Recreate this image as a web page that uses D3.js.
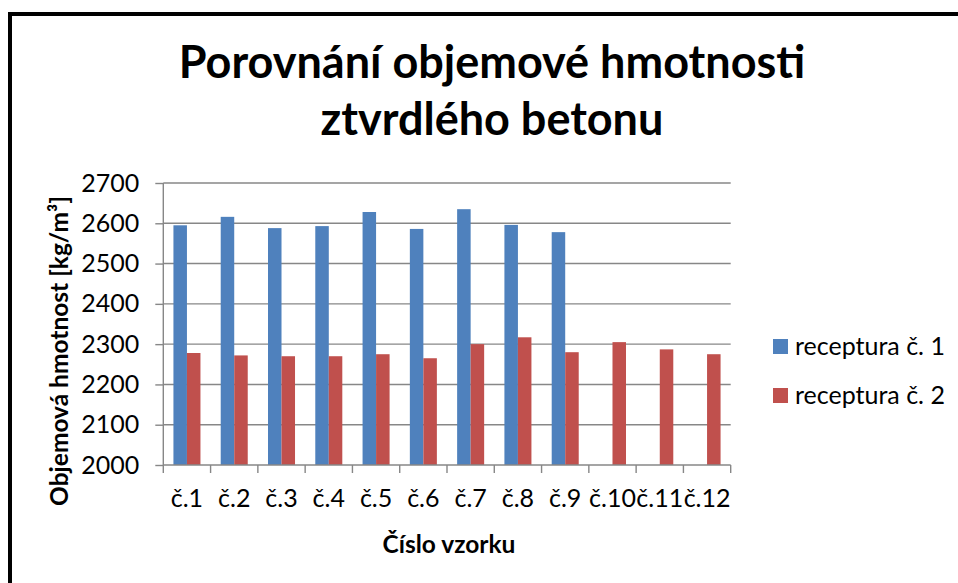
<!DOCTYPE html>
<html>
<head>
<meta charset="utf-8">
<script src="https://cdn.jsdelivr.net/npm/d3@7"></script>
<style>
  body { margin: 0; background: #fff; }
  svg { display: block; }
  text { font-family: Lato, "Open Sans", sans-serif; fill: #000; }
</style>
</head>
<body>
<script>
// chart data
var categories = ["č.1", "č.2", "č.3", "č.4", "č.5", "č.6", "č.7", "č.8", "č.9", "č.10", "č.11", "č.12"];
var receptura1 = [2595, 2616, 2588, 2593, 2628, 2586, 2635, 2596, 2578, null, null, null];
var receptura2 = [2278, 2272, 2270, 2270, 2275, 2265, 2300, 2317, 2280, 2305, 2287, 2275];
var seriesNames = ["receptura č. 1", "receptura č. 2"];
var yTicks = [2000, 2100, 2200, 2300, 2400, 2500, 2600, 2700];
var titleLines = ["Porovnání objemové hmotnosti", "ztvrdlého betonu"];
var xTitle = "Číslo vzorku";
var yTitle = "Objemová hmotnost [kg/m³]";

var w = 958,
    h = 583,
    colors = ["#4F81BD", "#C0504D"],
    gridColor = "#878787",
    labelSize = "25px",
    axisTitleSize = "24.5px";

var plot = {left: 163.3, right: 730.7, top: 183, bottom: 465};

var svg = d3.select("body")
            .append("svg")
            .attr("width", w)
            .attr("height", h);

// outer frame (only top and left edges are in view)
svg.append("rect")
   .attr("x", 10)
   .attr("y", 14)
   .attr("width", 1000)
   .attr("height", 1000)
   .attr("fill", "none")
   .attr("stroke", "#000")
   .attr("stroke-width", 4);

var x = d3.scaleBand()
          .domain(categories)
          .range([plot.left, plot.right]);

// two bars per group, gap width of 150% like excel
var x1 = d3.scaleBand()
           .domain([0, 1])
           .range([0, x.bandwidth()])
           .paddingInner(0)
           .paddingOuter(0.75);

var y = d3.scaleLinear()
          .domain([2000, 2700])
          .range([plot.bottom, plot.top]);

// gridlines
svg.append("g")
   .selectAll("line")
   .data(yTicks.slice(1))
   .enter()
   .append("line")
   .attr("x1", plot.left)
   .attr("x2", plot.right)
   .attr("y1", function (d) { return y(d); })
   .attr("y2", function (d) { return y(d); })
   .attr("stroke", gridColor)
   .attr("stroke-width", 1.4);

// bars
var series = [receptura1, receptura2];
series.forEach(function (vals, s) {
  svg.append("g")
     .selectAll("rect")
     .data(vals.map(function (v, i) { return {cat: categories[i], v: v}; })
               .filter(function (d) { return d.v !== null; }))
     .enter()
     .append("rect")
     .attr("x", function (d) { return x(d.cat) + x1(s); })
     .attr("y", function (d) { return y(d.v); })
     .attr("width", x1.bandwidth())
     .attr("height", function (d) { return y(2000) - y(d.v); })
     .attr("fill", colors[s]);
});

// y axis
var yAxis = svg.append("g")
   .attr("transform", "translate(" + plot.left + ",0)")
   .call(d3.axisLeft(y).tickValues(yTicks).tickSize(8).tickPadding(16).tickFormat(d3.format("d")));
yAxis.select(".domain").attr("stroke", gridColor).attr("stroke-width", 1.4).attr("d", "M0," + plot.top + "V" + plot.bottom);
yAxis.selectAll(".tick line").attr("stroke", gridColor).attr("stroke-width", 1.4);
yAxis.selectAll(".tick text")
     .attr("font-size", labelSize)
     .attr("fill", "#000")
     .style("font-family", "Lato, sans-serif");

// x axis
var xAxis = svg.append("g")
   .attr("transform", "translate(0," + plot.bottom + ")")
   .call(d3.axisBottom(x).tickSize(0).tickPadding(0));
xAxis.select(".domain").attr("stroke", gridColor).attr("stroke-width", 1.4).attr("d", "M" + plot.left + ",0H" + plot.right);
xAxis.selectAll(".tick text")
     .attr("font-size", labelSize)
     .attr("fill", "#000")
     .attr("dy", null)
     .attr("y", 42)
     .style("font-family", "Lato, sans-serif");

// category boundary ticks
svg.append("g")
   .selectAll("line")
   .data(categories.concat(["end"]))
   .enter()
   .append("line")
   .attr("x1", function (d, i) { return plot.left + i * x.step(); })
   .attr("x2", function (d, i) { return plot.left + i * x.step(); })
   .attr("y1", plot.bottom)
   .attr("y2", plot.bottom + 8)
   .attr("stroke", gridColor)
   .attr("stroke-width", 1.4);

// title
svg.append("g")
   .selectAll("text")
   .data(titleLines)
   .enter()
   .append("text")
   .attr("x", 492)
   .attr("y", function (d, i) { return 78 + i * 57; })
   .attr("text-anchor", "middle")
   .attr("font-size", "45px")
   .attr("font-weight", "bold")
   .text(function (d) { return d; });

// axis titles
svg.append("text")
   .attr("x", 449)
   .attr("y", 553)
   .attr("text-anchor", "middle")
   .attr("font-size", axisTitleSize)
   .attr("font-weight", "bold")
   .text(xTitle);

svg.append("text")
   .attr("transform", "translate(68,351) rotate(-90)")
   .attr("text-anchor", "middle")
   .attr("font-size", axisTitleSize)
   .attr("font-weight", "bold")
   .text(yTitle);

// legend
var legend = svg.append("g")
   .selectAll("g")
   .data(seriesNames)
   .enter()
   .append("g")
   .attr("transform", function (d, i) { return "translate(773," + (339 + i * 49) + ")"; });

legend.append("rect")
      .attr("width", 15)
      .attr("height", 15)
      .attr("fill", function (d, i) { return colors[i]; });

legend.append("text")
      .attr("x", 22)
      .attr("y", 16)
      .attr("font-size", labelSize)
      .text(function (d) { return d; });
</script>
</body>
</html>
